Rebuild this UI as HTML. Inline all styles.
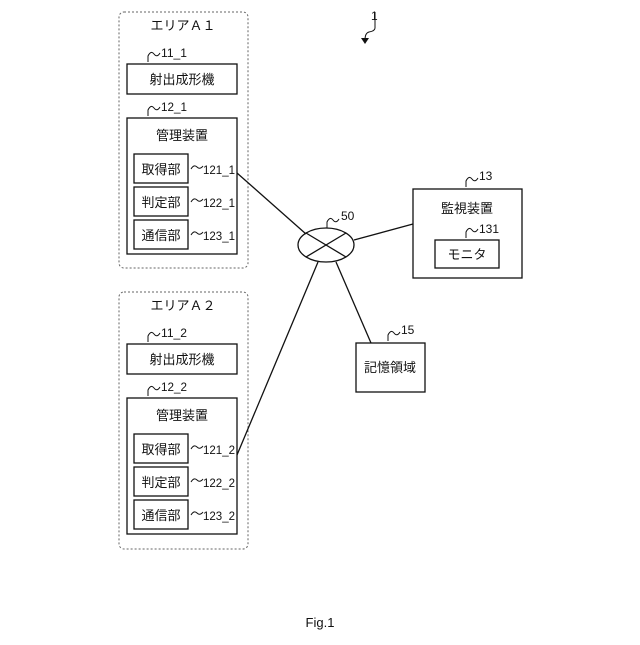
<!DOCTYPE html>
<html><head><meta charset="utf-8"><style>
body{margin:0;background:#fff}
text{font-family:"Liberation Sans","Noto Sans CJK JP",sans-serif;font-size:13px;fill:#111}
text.n{font-size:12px}
</style></head><body>
<svg width="640" height="640" xmlns="http://www.w3.org/2000/svg" stroke="#111" fill="none">
<g stroke-width="1">
<rect x="119" y="12" width="129" height="256" rx="5" stroke-dasharray="2,2" stroke="#666"/>
<rect x="119" y="292" width="129" height="257" rx="5" stroke-dasharray="2,2" stroke="#666"/>
</g>
<g stroke-width="1.3">
<rect x="127" y="64" width="110" height="30"/>
<rect x="127" y="118" width="110" height="136"/>
<rect x="134" y="154" width="54" height="29"/>
<rect x="134" y="187" width="54" height="29"/>
<rect x="134" y="220" width="54" height="29"/>
<rect x="127" y="344" width="110" height="30"/>
<rect x="127" y="398" width="110" height="136"/>
<rect x="134" y="434" width="54" height="29"/>
<rect x="134" y="467" width="54" height="29"/>
<rect x="134" y="500" width="54" height="29"/>
<rect x="413" y="189" width="109" height="89"/>
<rect x="435" y="240" width="64" height="28"/>
<rect x="356" y="343" width="69" height="49"/>
<ellipse cx="326" cy="245" rx="28" ry="17"/>
<line x1="306" y1="233" x2="346" y2="257"/>
<line x1="306" y1="257" x2="346" y2="233"/>
<line x1="237" y1="173" x2="306" y2="234"/>
<line x1="354" y1="240" x2="413" y2="224"/>
<line x1="318" y1="262" x2="237" y2="455"/>
<line x1="336" y1="262" x2="371" y2="343"/>
</g>
<g stroke-width="1">
<path d="M148 62 v-6 q3-6 6-2 q3 4 6-1"/>
<path d="M148 116 v-6 q3-6 6-2 q3 4 6-1"/>
<path d="M148 342 v-6 q3-6 6-2 q3 4 6-1"/>
<path d="M148 396 v-6 q3-6 6-2 q3 4 6-1"/>
<path d="M466 187 v-6 q3-6 6-2 q3 4 6-1"/>
<path d="M466 238 v-6 q3-6 6-2 q3 4 6-1"/>
<path d="M388 341 v-6 q3-6 6-2 q3 4 6-1"/>
<path d="M327 228 v-6 q3-6 6-2 q3 4 6-1"/>
<path d="M191 169 q3-5 6-2 q3 3 6-1"/><path d="M191 202 q3-5 6-2 q3 3 6-1"/><path d="M191 235 q3-5 6-2 q3 3 6-1"/>
<path d="M191 449 q3-5 6-2 q3 3 6-1"/><path d="M191 482 q3-5 6-2 q3 3 6-1"/><path d="M191 515 q3-5 6-2 q3 3 6-1"/>
<path d="M375 12 v16 q0 3-6 4 q-4 1-4 8"/>
</g>
<polygon points="361,38 369,38 365,44" fill="#111" stroke="none"/>
<g stroke="none">
<text x="183" y="30" text-anchor="middle">エリアＡ１</text>
<text class="n" x="161" y="57" textLength="26" lengthAdjust="spacingAndGlyphs">11_1</text>
<text x="182" y="84" text-anchor="middle">射出成形機</text>
<text class="n" x="161" y="111" textLength="26" lengthAdjust="spacingAndGlyphs">12_1</text>
<text x="182" y="140" text-anchor="middle">管理装置</text>
<text x="161" y="174" text-anchor="middle">取得部</text>
<text x="161" y="207" text-anchor="middle">判定部</text>
<text x="161" y="240" text-anchor="middle">通信部</text>
<text class="n" x="203" y="174" textLength="32" lengthAdjust="spacingAndGlyphs">121_1</text>
<text class="n" x="203" y="207" textLength="32" lengthAdjust="spacingAndGlyphs">122_1</text>
<text class="n" x="203" y="240" textLength="32" lengthAdjust="spacingAndGlyphs">123_1</text>
<text x="183" y="310" text-anchor="middle">エリアＡ２</text>
<text class="n" x="161" y="337" textLength="26" lengthAdjust="spacingAndGlyphs">11_2</text>
<text x="182" y="364" text-anchor="middle">射出成形機</text>
<text class="n" x="161" y="391" textLength="26" lengthAdjust="spacingAndGlyphs">12_2</text>
<text x="182" y="420" text-anchor="middle">管理装置</text>
<text x="161" y="454" text-anchor="middle">取得部</text>
<text x="161" y="487" text-anchor="middle">判定部</text>
<text x="161" y="520" text-anchor="middle">通信部</text>
<text class="n" x="203" y="454" textLength="32" lengthAdjust="spacingAndGlyphs">121_2</text>
<text class="n" x="203" y="487" textLength="32" lengthAdjust="spacingAndGlyphs">122_2</text>
<text class="n" x="203" y="520" textLength="32" lengthAdjust="spacingAndGlyphs">123_2</text>
<text class="n" x="341" y="220">50</text>
<text class="n" x="479" y="180">13</text>
<text x="467" y="213" text-anchor="middle">監視装置</text>
<text class="n" x="479" y="233" textLength="20" lengthAdjust="spacingAndGlyphs">131</text>
<text x="467" y="259" text-anchor="middle">モニタ</text>
<text class="n" x="401" y="334">15</text>
<text x="390" y="372" text-anchor="middle">記憶領域</text>
<text class="n" x="371" y="20">1</text>
<text x="320" y="627" text-anchor="middle">Fig.1</text>
</g>
</svg>
</body></html>
